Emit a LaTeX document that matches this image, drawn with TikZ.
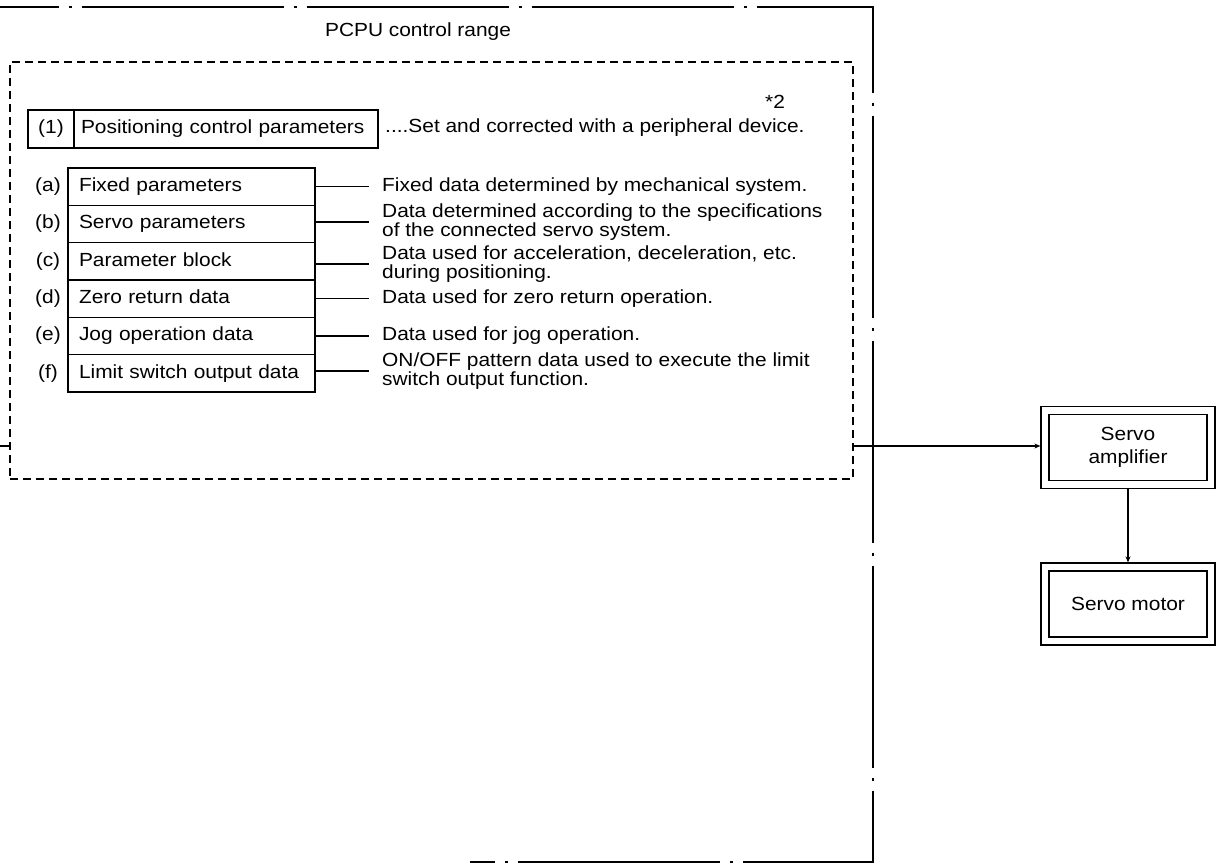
\documentclass[tikz,border=0pt]{standalone}
\usepackage{fontspec}
\setmainfont{Liberation Sans}[FakeStretch=1.1]
\usetikzlibrary{arrows.meta,positioning}
\newcommand{\diafont}{\fontsize{19pt}{19pt}\selectfont}
\tikzset{
  >={Stealth[length=6pt,width=5pt]},
  frame/.style={line width=2.4pt,dash pattern=on 202pt off 10pt on 3pt off 10pt,dash phase=143.5pt},
  zonebox/.style={draw,line width=1.1pt,dash pattern=on 8pt off 5pt,minimum width=843pt,minimum height=417pt},
  cell/.style={draw,line width=1.3pt,minimum height=38pt,inner ysep=0pt,font=\diafont,
    text height=13.5pt,text depth=4pt},
  field/.style={draw,line width=1.3pt,minimum height=37.3pt,inner ysep=0pt,inner xsep=11pt,
    text width=225pt,align=left,font=\diafont,text height=13.5pt,text depth=4pt},
  tag/.style={font=\diafont,inner sep=0pt,text height=13.5pt,text depth=4pt},
  note/.style={font=\diafont,anchor=west,align=left,inner xsep=13pt,inner ysep=0pt},
  link/.style={line width=1.3pt},
  unit/.style={draw,line width=1.3pt,double,double distance=6.5pt,minimum width=166pt,
    minimum height=74pt,align=center,font=\fontsize{19pt}{23pt}\selectfont,outer sep=4.6pt},
}
\begin{document}
\begin{tikzpicture}[x=1pt,y=-1pt]
  \useasboundingbox (0,0) rectangle (1220,867);
  % outer unit boundary, left side runs off the page
  \draw[frame] (0,7) -- (873,7) -- (873,862) -- (470,862);
  \node[tag] (title) at (418,32) {PCPU control range};
  \node[zonebox] (zone) at (431.5,270.5) {};

  % (1) heading
  \node[cell,minimum width=46pt] (num) at (51,129) {(1)};
  \node[cell,text width=290pt,inner xsep=7pt,align=left] (pcp) at (226,129) {Positioning control parameters};
  \node[tag,anchor=west] (setby) at (385,128) {....Set and corrected with a peripheral device.};
  \node[tag] (star) at (775,104) {*2};

  % parameter table
  \node[field] (fixed) at (191.5,186.7) {Fixed parameters};
  \node[field] (servo) at (191.5,224) {Servo parameters};
  \node[field] (block) at (191.5,261.3) {Parameter block};
  \node[field] (zero)  at (191.5,298.7) {Zero return data};
  \node[field] (jog)   at (191.5,336) {Jog operation data};
  \node[field] (limit) at (191.5,373.3) {Limit switch output data};
  \node[tag] (la) at (48,186.7) {(a)};
  \node[tag] (lb) at (48,224) {(b)};
  \node[tag] (lc) at (48,261.3) {(c)};
  \node[tag] (ld) at (48,298.7) {(d)};
  \node[tag] (le) at (48,336) {(e)};
  \node[tag] (lf) at (48,373.3) {(f)};
  \node[note] (fixed-d) at (369,186.7) {Fixed data determined by mechanical system.};
  \node[note] (servo-d) at (369,222) {Data determined according to the specifications\\of the connected servo system.};
  \node[note] (block-d) at (369,264) {Data used for acceleration, deceleration, etc.\\during positioning.};
  \node[note] (zero-d)  at (369,298.7) {Data used for zero return operation.};
  \node[note] (jog-d)   at (369,336) {Data used for jog operation.};
  \node[note] (limit-d) at (369,371) {ON/OFF pattern data used to execute the limit\\switch output function.};
  \foreach \n in {fixed,servo,block,zero,jog,limit}
    \draw[link] (\n.east |- \n-d.west) -- (\n-d.west);

  % servo side
  \node[unit] (amp) at (1128,447.5) {Servo\\amplifier};
  \node[unit] (motor) at (1128,604) {Servo motor};
  \coordinate (feed) at (0,446);
  \coordinate (tap) at (zone.east |- feed);
  \draw[link] (feed) -- (feed -| zone.west);
  \draw[link,->] (tap) -- (tap -| amp.west);
  \draw[->,line width=2pt] (amp) -- (motor);
\end{tikzpicture}
\end{document}
